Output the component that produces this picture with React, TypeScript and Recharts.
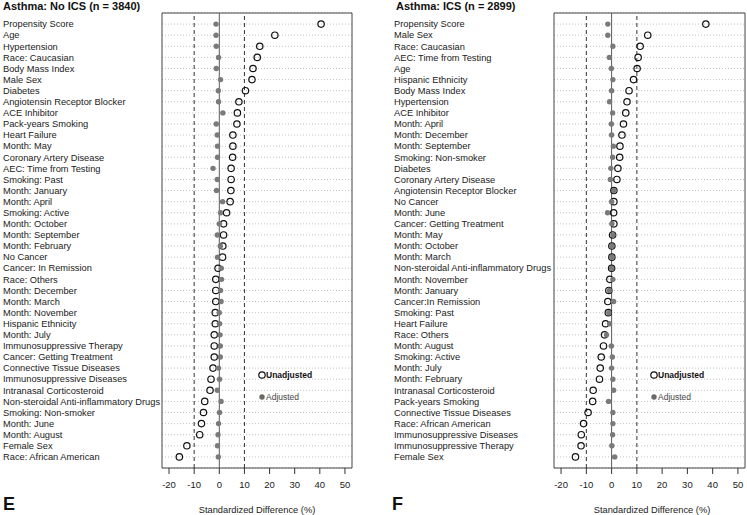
import { ScatterChart, Scatter, XAxis, YAxis, CartesianGrid, ReferenceLine, ReferenceArea } from 'recharts';

const leftLabels = [
  'Propensity Score', 'Age', 'Hypertension', 'Race: Caucasian', 'Body Mass Index', 'Male Sex', 'Diabetes',
  'Angiotensin Receptor Blocker', 'ACE Inhibitor', 'Pack-years Smoking', 'Heart Failure', 'Month: May',
  'Coronary Artery Disease', 'AEC: Time from Testing', 'Smoking: Past', 'Month: January', 'Month: April',
  'Smoking: Active', 'Month: October', 'Month: September', 'Month: February', 'No Cancer',
  'Cancer: In Remission', 'Race: Others', 'Month: December', 'Month: March', 'Month: November',
  'Hispanic Ethnicity', 'Month: July', 'Immunosuppressive Therapy', 'Cancer: Getting Treatment',
  'Connective Tissue Diseases', 'Immunosuppressive Diseases', 'Intranasal Corticosteroid',
  'Non-steroidal Anti-inflammatory Drugs', 'Smoking: Non-smoker', 'Month: June', 'Month: August',
  'Female Sex', 'Race: African American',
];
const leftUnadjusted = [
  40.5, 22.1, 16.1, 15.1, 13.4, 13.0, 10.4, 7.8, 7.2, 7.0, 5.4, 5.4, 5.3, 4.7, 4.7, 4.6, 4.3, 2.9, 1.7, 1.7,
  1.4, 1.3, -0.5, -1.4, -1.4, -1.4, -1.6, -1.6, -2.0, -2.0, -2.0, -2.5, -3.3, -3.7, -5.8, -6.3, -7.1, -7.8,
  -12.9, -15.9,
];
const leftAdjusted = [
  -1.3, -1.3, -1.2, -0.3, -1.2, 0.5, -0.4, -0.3, 1.4, -1.2, -0.8, -0.7, -0.7, -2.5, -0.8, -1.1, 1.3, 0.5, 0.0,
  -0.8, 0.4, -0.7, 0.8, 0.9, 0.5, 0.7, 0.0, 0.1, 0.3, 0.4, 0.4, -0.3, 0.1, -0.8, 0.7, 0.1, -0.3, -0.5,
  -0.7, -0.4,
];

const rightLabels = [
  'Propensity Score', 'Male Sex', 'Race: Caucasian', 'AEC: Time from Testing', 'Age', 'Hispanic Ethnicity',
  'Body Mass Index', 'Hypertension', 'ACE Inhibitor', 'Month: April', 'Month: December', 'Month: September',
  'Smoking: Non-smoker', 'Diabetes', 'Coronary Artery Disease', 'Angiotensin Receptor Blocker', 'No Cancer',
  'Month: June', 'Cancer: Getting Treatment', 'Month: May', 'Month: October', 'Month: March',
  'Non-steroidal Anti-inflammatory Drugs', 'Month: November', 'Month: January', 'Cancer:In Remission',
  'Smoking: Past', 'Heart Failure', 'Race: Others', 'Month: August', 'Smoking: Active', 'Month: July',
  'Month: February', 'Intranasal Corticosteroid', 'Pack-years Smoking', 'Connective Tissue Diseases',
  'Race: African American', 'Immunosuppressive Diseases', 'Immunosuppressive Therapy', 'Female Sex',
];
const rightUnadjusted = [
  37.3, 14.3, 11.3, 10.5, 10.1, 8.7, 6.9, 6.1, 5.6, 4.7, 4.1, 3.3, 3.2, 2.5, 2.1, 0.9, 0.9, 0.8, 0.9, 0.4,
  0.1, 0.1, 0.0, -0.7, -1.1, -1.5, -1.3, -2.4, -2.8, -3.2, -4.1, -4.5, -4.8, -7.3, -7.5, -9.3, -11.1, -12.0,
  -12.1, -14.3,
];
const rightAdjusted = [
  -1.5, -1.5, 0.5, -0.9, -0.1, 0.5, 0.0, -0.8, 0.4, -0.1, 0.0, 0.7, 0.4, -0.3, -0.5, 0.9, 0.0, -1.6, 0.1, 0.5,
  0.1, 0.1, 0.0, 0.5, -0.9, 0.8, -1.1, -0.8, -2.0, -0.1, 0.3, 0.0, 0.5, 0.8, -1.2, 0.5, 0.5, 0.4,
  0.1, 1.2,
];

const xTicks = [-20, -10, 0, 10, 20, 30, 40, 50];
const xDomain: [number, number] = [-22.8, 52.8];

const FONT = '"Liberation Sans", Arial, Helvetica, sans-serif';

const OpenDot = (props: any) => (
  <circle cx={props.cx} cy={props.cy} r={3.2} fill="none" stroke="#111" strokeWidth={1.2} />
);
const FilledDot = (props: any) => <circle cx={props.cx} cy={props.cy} r={2.7} fill="#7a7a7a" />;

interface PanelProps {
  labels: string[];
  unadjusted: number[];
  adjusted: number[];
  left: number;
  labelX: number;
  axisWidth: number;
  marginRight: number;
}

const Panel = ({ labels, unadjusted, adjusted, left, labelX, axisWidth, marginRight }: PanelProps) => {
  const rows = labels.map((_, i) => i + 1);
  const unadjData = labels.map((name, i) => ({ name, row: i + 1, x: unadjusted[i] }));
  const adjData = labels.map((name, i) => ({ name, row: i + 1, x: adjusted[i] }));
  const LabelTick = ({ y, payload }: any) => (
    <text x={labelX} y={y} dy="0.35em" textAnchor="start" fontSize={9.3} fill="#1a1a1a">
      {labels[payload.value - 1]}
    </text>
  );
  return (
    <div style={{ position: 'absolute', left, top: 0 }}>
      {/* x axis band is 30px high by default, so bottom margin + 30 puts the box bottom at y=468 */}
      <ScatterChart width={373} height={515} margin={{ top: 13, right: marginRight, bottom: 17, left: 0 }}>
        <CartesianGrid vertical={false} strokeDasharray="1 2" stroke="#c4c4c4" />
        <XAxis
          type="number"
          dataKey="x"
          domain={xDomain}
          ticks={xTicks}
          allowDataOverflow
          axisLine={false}
          tickSize={6}
          tickMargin={7}
          tickLine={{ stroke: '#333' }}
          tick={{ fontSize: 9.5, fill: '#1a1a1a' }}
        />
        <YAxis
          type="number"
          dataKey="row"
          domain={[0, 41]}
          ticks={rows}
          interval={0}
          reversed
          width={axisWidth}
          axisLine={false}
          tickLine={false}
          tick={<LabelTick />}
        />
        <ReferenceArea x1={xDomain[0]} x2={xDomain[1]} y1={0} y2={41} fill="none" stroke="#444" strokeWidth={1} />
        <ReferenceLine x={0} stroke="#5a5a5a" strokeWidth={1} />
        <ReferenceLine x={-10} stroke="#333" strokeDasharray="4 3" />
        <ReferenceLine x={10} stroke="#333" strokeDasharray="4 3" />
        <Scatter name="Unadjusted" data={unadjData} shape={OpenDot} isAnimationActive={false} />
        <Scatter name="Adjusted" data={adjData} shape={FilledDot} isAnimationActive={false} />
      </ScatterChart>
    </div>
  );
};

export default function App() {
  return (
    <div style={{ position: 'absolute', left: 0, top: 0, width: 747, height: 515, fontFamily: FONT, background: '#fff' }}>
      <Panel labels={leftLabels} unadjusted={leftUnadjusted} adjusted={leftAdjusted} left={0} labelX={3} axisWidth={162} marginRight={21} />
      <Panel labels={rightLabels} unadjusted={rightUnadjusted} adjusted={rightAdjusted} left={374} labelX={20} axisWidth={180} marginRight={2} />
      <svg width={747} height={515} style={{ position: 'absolute', left: 0, top: 0, pointerEvents: 'none' }}>
        <text x={3} y={10.3} fontSize={11} fontWeight="bold" fill="#111">Asthma: No ICS (n = 3840)</text>
        <text x={396} y={10.3} fontSize={11} fontWeight="bold" fill="#111">Asthma: ICS (n = 2899)</text>
        <text x={3} y={510} fontSize={18} fontWeight="bold" fill="#111">E</text>
        <text x={392} y={510} fontSize={18} fontWeight="bold" fill="#111">F</text>
        <text x={257} y={513} fontSize={9.3} textAnchor="middle" fill="#1a1a1a">Standardized Difference (%)</text>
        <text x={652} y={513} fontSize={9.3} textAnchor="middle" fill="#1a1a1a">Standardized Difference (%)</text>
        {[262, 654].map((cx) => (
          <g key={cx}>
            <circle cx={cx} cy={375} r={3.2} fill="none" stroke="#111" strokeWidth={1.2} />
            <text x={cx + 4} y={375} dy="0.35em" fontSize={8.5} fontWeight="bold" fill="#111">Unadjusted</text>
            <circle cx={cx} cy={397} r={2.7} fill="#6a6a6a" />
            <text x={cx + 4} y={397} dy="0.35em" fontSize={8.5} fill="#444">Adjusted</text>
          </g>
        ))}
      </svg>
    </div>
  );
}
